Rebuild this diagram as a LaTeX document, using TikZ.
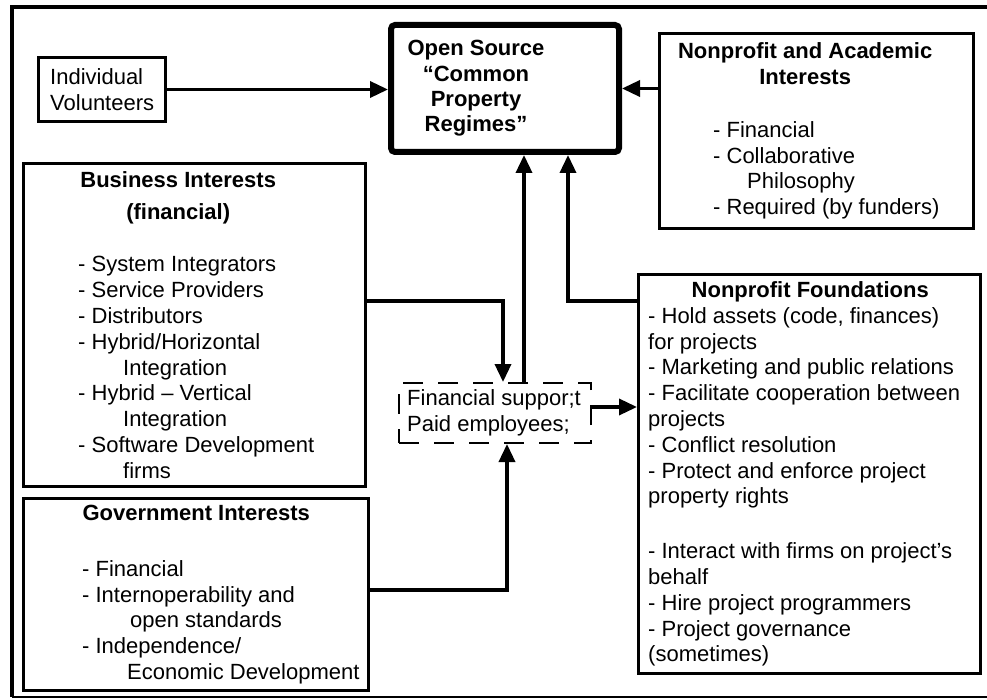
\documentclass[tikz,border=0pt]{standalone}
\usepackage{fontspec}
\setmainfont{Liberation Sans}
\usetikzlibrary{positioning,arrows.meta,calc}

\tikzset{
  box/.style={draw, line width=3pt, inner sep=0pt, anchor=north west},
  arr/.style={line width=3.5pt, -{Triangle[length=18pt,width=16pt]}},
  txt/.style={align=left, inner sep=0pt, anchor=west, font=\fontsize{22}{25.8}\selectfont},
}

\begin{document}
\begin{tikzpicture}[x=1pt, y=-1pt]
\useasboundingbox (0,0) rectangle (987,700);

% Frame
\draw[line width=4pt] (987,7) -- (12,7) -- (12,697);
\draw[line width=2pt] (12,697) -- (987,697);

% Boxes
\node[box, minimum width=127pt, minimum height=64pt] (vol) at (37,56) {};
\node[box, line width=6pt, rounded corners=4pt, minimum width=228pt, minimum height=127pt] (osrc) at (388,22) {};
\node[box, minimum width=314pt, minimum height=195pt] (acad) at (658,32) {};
\node[box, minimum width=342pt, minimum height=323pt] (biz) at (22,162) {};
\node[box, minimum width=345pt, minimum height=192pt] (gov) at (22,497) {};
\node[box, minimum width=342pt, minimum height=399pt] (fund) at (637,273) {};
\node[box, line width=2pt, dash pattern=on 20pt off 15pt, minimum width=192pt, minimum height=60pt] (fin) at (398,382) {};

% Texts
\node[txt] (voltx) at ([xshift=13pt]vol.west) {Individual\\Volunteers};
\node[txt, align=center, anchor=center, font=\fontsize{22}{25.4}\selectfont\bfseries] (osrctx) at ([xshift=-29pt]osrc.center)
  {Open Source\\“Common\\Property\\Regimes”};
\node[txt] (acadtx) at ([xshift=55pt]acad.west)
  {\makebox[184pt][c]{\textbf{Nonprofit and Academic}}\\
   \makebox[184pt][c]{\textbf{Interests}}\\[27pt]
   - Financial\\
   - Collaborative\\
   \hspace*{34pt}Philosophy\\
   - Required (by funders)};
\node[txt] (biztx) at ([xshift=56pt]biz.west)
  {\makebox[200pt][c]{\textbf{Business Interests}}\\[6pt]
   \makebox[200pt][c]{\textbf{(financial)}}\\[27pt]
   - System Integrators\\
   - Service Providers\\
   - Distributors\\
   - Hybrid/Horizontal\\
   \hspace*{45pt}Integration\\
   - Hybrid – Vertical\\
   \hspace*{45pt}Integration\\
   - Software Development\\
   \hspace*{45pt}firms};
\node[txt] (govtx) at ([xshift=60pt]gov.west)
  {\makebox[228pt][c]{\textbf{Government Interests}}\\[30pt]
   - Financial\\
   - Internoperability and\\
   \hspace*{48pt}open standards\\
   - Independence/\\
   \hspace*{45pt}Economic Development};
\node[txt] (fundtx) at ([xshift=11pt]fund.west)
  {\makebox[324pt][c]{\textbf{Nonprofit Foundations}}\\
   - Hold assets (code, finances)\\
   for projects\\
   - Marketing and public relations\\
   - Facilitate cooperation between\\
   projects\\
   - Conflict resolution\\
   - Protect and enforce project\\
   property rights\\[29pt]
   - Interact with firms on project's\\
   behalf\\
   - Hire project programmers\\
   - Project governance\\
   (sometimes)};
\node[txt] (fintx) at ([xshift=9pt]fin.west) {Financial suppor;t\\Paid employees;};

% Connectors
\coordinate (jb) at (503,301);
\coordinate (jf) at (568,301);
\coordinate (jg) at (507,590);
\draw[arr] (vol.east) -- (vol.east -| osrc.west);
\draw[arr] (acad.west |- osrc.east) -- (osrc.east);
\draw[arr] (biz.east |- jb) -- (jb) -- (jb |- fin.north);
\draw[arr] ([xshift=29pt]fin.north) -- ([xshift=29pt]fin.north |- osrc.south);
\draw[arr] (fund.west |- jf) -- (jf) -- (jf |- osrc.south);
\draw[arr] ([yshift=6pt]fin.east) -- ([yshift=6pt]fin.east -| fund.west);
\draw[arr] (gov.east |- jg) -- (jg) -- (jg |- fin.south);
\end{tikzpicture}
\end{document}
